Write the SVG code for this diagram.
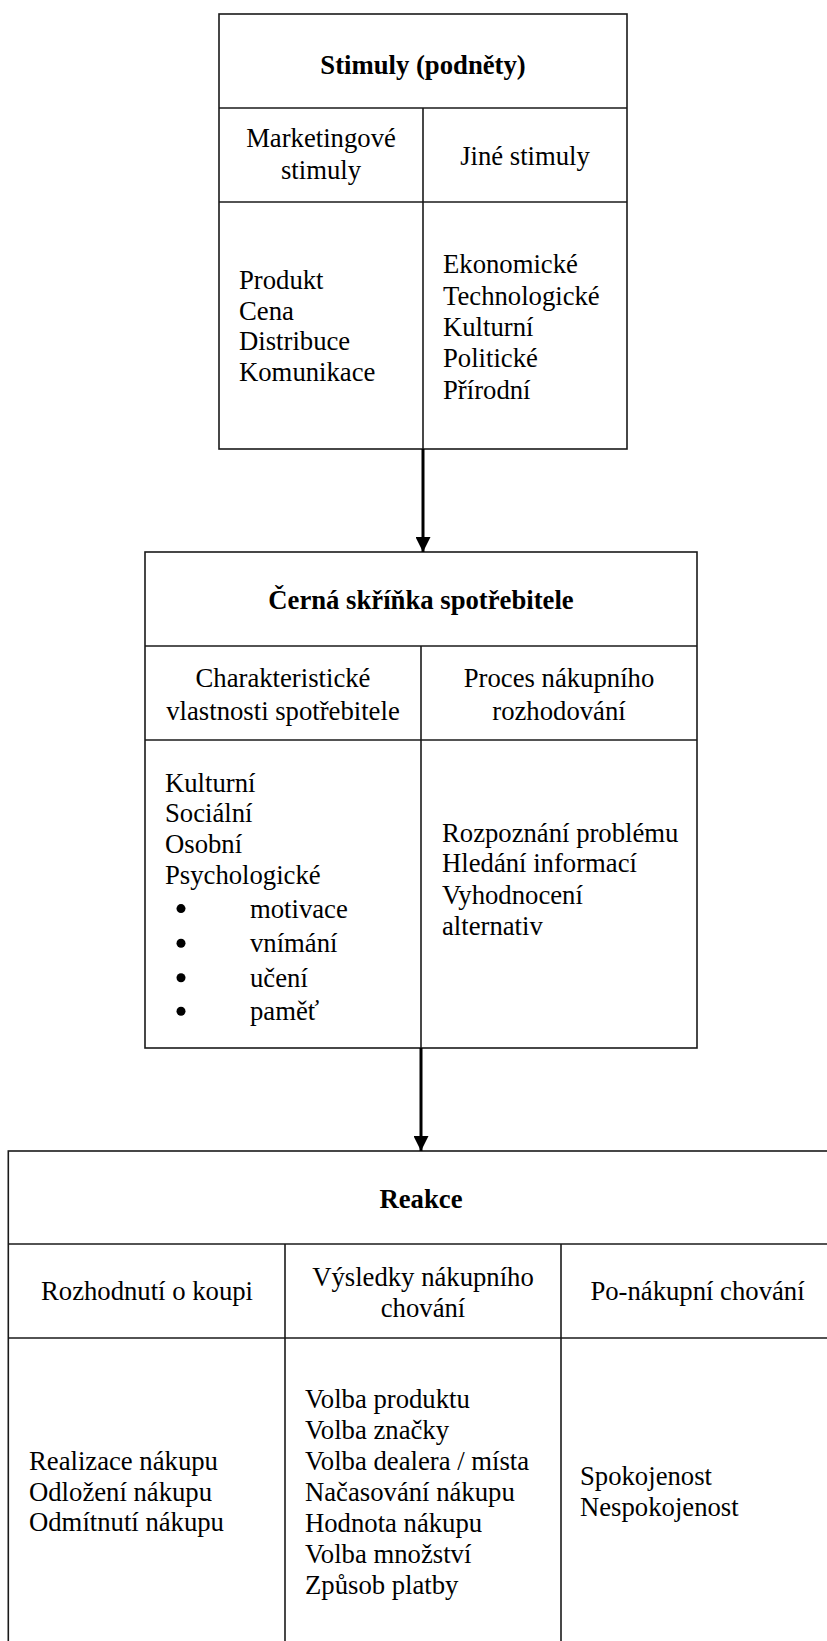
<svg xmlns="http://www.w3.org/2000/svg" width="827" height="1641" viewBox="0 0 827 1641">
  <defs>
    <style>
      .box { fill: #fff; stroke: #1a1a1a; stroke-width: 1.6; }
      .rule { stroke: #1a1a1a; stroke-width: 1.6; }
      .t { font-family: "Liberation Serif", "Times New Roman", serif; font-size: 26.7px; fill: #000; }
      .b { font-weight: bold; }
      .c { text-anchor: middle; }
      .dot { fill: #000; }
      .flow { stroke: #000; stroke-width: 3; fill: none; }
    </style>
    <marker id="head" viewBox="0 0 10 10" refX="10" refY="5" markerWidth="15" markerHeight="15" markerUnits="userSpaceOnUse" orient="auto">
      <path d="M0,0 L10,5 L0,10 Z" fill="#000"/>
    </marker>
  </defs>

  <rect width="827" height="1641" fill="#fff"/>

  <!-- Stimuli -->
  <g id="stimuly">
    <rect class="box" x="219" y="14" width="408" height="435"/>
    <line class="rule" x1="219" y1="108" x2="627" y2="108"/>
    <line class="rule" x1="219" y1="202" x2="627" y2="202"/>
    <line class="rule" x1="423" y1="108" x2="423" y2="449"/>
    <text class="t b c" x="423" y="74">Stimuly (podněty)</text>
    <text class="t c" x="321" y="146.5">Marketingové</text>
    <text class="t c" x="321" y="179">stimuly</text>
    <text class="t c" x="525" y="165">Jiné stimuly</text>
    <text class="t" x="239">
      <tspan x="239" y="289">Produkt</tspan>
      <tspan x="239" y="319.7">Cena</tspan>
      <tspan x="239" y="350.4">Distribuce</tspan>
      <tspan x="239" y="381.1">Komunikace</tspan>
    </text>
    <text class="t" x="443">
      <tspan x="443" y="273.1">Ekonomické</tspan>
      <tspan x="443" y="304.5">Technologické</tspan>
      <tspan x="443" y="335.9">Kulturní</tspan>
      <tspan x="443" y="367.3">Politické</tspan>
      <tspan x="443" y="398.7">Přírodní</tspan>
    </text>
  </g>

  <!-- Consumer black box -->
  <g id="cerna-skrinka">
    <rect class="box" x="145" y="552" width="552" height="496"/>
    <line class="rule" x1="145" y1="646" x2="697" y2="646"/>
    <line class="rule" x1="145" y1="740" x2="697" y2="740"/>
    <line class="rule" x1="421" y1="646" x2="421" y2="1048"/>
    <text class="t b c" x="421" y="609">Černá skříňka spotřebitele</text>
    <text class="t c" x="283" y="687">Charakteristické</text>
    <text class="t c" x="283" y="720">vlastnosti spotřebitele</text>
    <text class="t c" x="559" y="687">Proces nákupního</text>
    <text class="t c" x="559" y="720">rozhodování</text>
    <text class="t" x="165">
      <tspan x="165" y="791.5">Kulturní</tspan>
      <tspan x="165" y="822.2">Sociální</tspan>
      <tspan x="165" y="852.9">Osobní</tspan>
      <tspan x="165" y="884">Psychologické</tspan>
    </text>
    <circle class="dot" cx="181" cy="908.6" r="4.5"/>
    <circle class="dot" cx="181" cy="943.2" r="4.5"/>
    <circle class="dot" cx="181" cy="977.7" r="4.5"/>
    <circle class="dot" cx="181" cy="1011.2" r="4.5"/>
    <text class="t" x="250">
      <tspan x="250" y="917.6">motivace</tspan>
      <tspan x="250" y="952.2">vnímání</tspan>
      <tspan x="250" y="986.7">učení</tspan>
      <tspan x="250" y="1020.2">paměť</tspan>
    </text>
    <text class="t" x="442">
      <tspan x="442" y="841.5">Rozpoznání problému</tspan>
      <tspan x="442" y="872.2">Hledání informací</tspan>
      <tspan x="442" y="903.5">Vyhodnocení</tspan>
      <tspan x="442" y="934.5">alternativ</tspan>
    </text>
  </g>

  <!-- Response -->
  <g id="reakce">
    <rect class="box" x="8.3" y="1151" width="826" height="494"/>
    <line class="rule" x1="8.3" y1="1244" x2="834" y2="1244"/>
    <line class="rule" x1="8.3" y1="1338" x2="834" y2="1338"/>
    <line class="rule" x1="285" y1="1244" x2="285" y2="1645"/>
    <line class="rule" x1="561" y1="1244" x2="561" y2="1645"/>
    <text class="t b c" x="421" y="1208">Reakce</text>
    <text class="t c" x="147" y="1300">Rozhodnutí o koupi</text>
    <text class="t c" x="423" y="1286">Výsledky nákupního</text>
    <text class="t c" x="423" y="1316.5">chování</text>
    <text class="t c" x="697.5" y="1300">Po-nákupní chování</text>
    <text class="t" x="29">
      <tspan x="29" y="1469.5">Realizace nákupu</tspan>
      <tspan x="29" y="1500.5">Odložení nákupu</tspan>
      <tspan x="29" y="1531">Odmítnutí nákupu</tspan>
    </text>
    <text class="t" x="305">
      <tspan x="305" y="1408">Volba produktu</tspan>
      <tspan x="305" y="1439">Volba značky</tspan>
      <tspan x="305" y="1470">Volba dealera / místa</tspan>
      <tspan x="305" y="1501">Načasování nákupu</tspan>
      <tspan x="305" y="1532">Hodnota nákupu</tspan>
      <tspan x="305" y="1563">Volba množství</tspan>
      <tspan x="305" y="1594">Způsob platby</tspan>
    </text>
    <text class="t" x="580">
      <tspan x="580" y="1484.9">Spokojenost</tspan>
      <tspan x="580" y="1515.6">Nespokojenost</tspan>
    </text>
  </g>

  <!-- Connectors -->
  <g id="connectors">
    <line class="flow" x1="423" y1="449" x2="423" y2="552" marker-end="url(#head)"/>
    <line class="flow" x1="421" y1="1048" x2="421" y2="1151" marker-end="url(#head)"/>
  </g>
</svg>
